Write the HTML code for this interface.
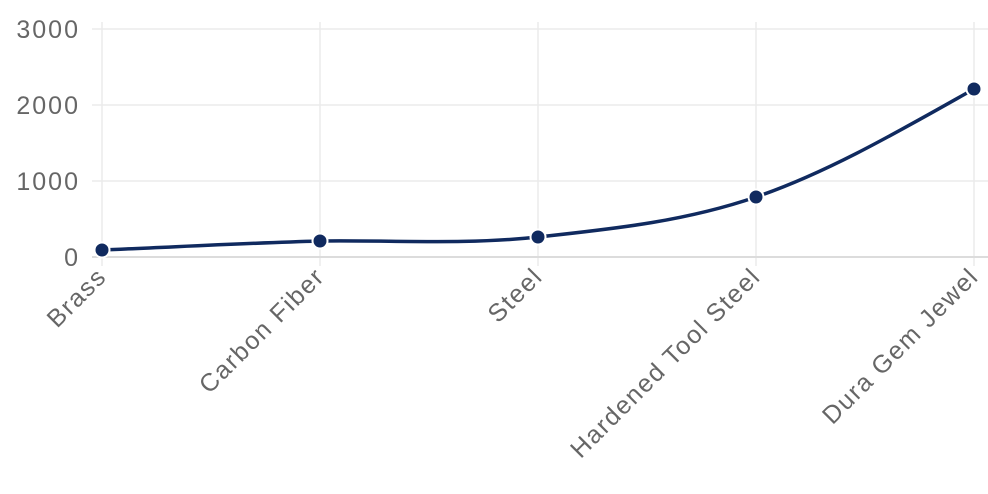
<!DOCTYPE html>
<html><head><style>body{margin:0;background:#fff}svg{display:block}</style></head><body>
<svg width="988" height="494" xmlns="http://www.w3.org/2000/svg" font-family="Liberation Sans, sans-serif">
<g stroke="#ebebeb" stroke-width="1.5">
<line x1="92" y1="29" x2="988" y2="29"/><line x1="92" y1="105" x2="988" y2="105"/><line x1="92" y1="181" x2="988" y2="181"/>
<line x1="102" y1="22" x2="102" y2="266"/><line x1="320" y1="22" x2="320" y2="266"/><line x1="538" y1="22" x2="538" y2="266"/><line x1="756" y1="22" x2="756" y2="266"/><line x1="974" y1="22" x2="974" y2="266"/>
</g>
<line x1="92" y1="257" x2="988" y2="257" stroke="#dcdcdc" stroke-width="2"/>
<g fill="#666" font-size="25" letter-spacing="2" text-anchor="end">
<text x="80" y="38">3000</text><text x="80" y="114">2000</text><text x="80" y="190">1000</text><text x="80" y="266">0</text>
</g>
<g fill="#666" font-size="25" letter-spacing="1.6" text-anchor="end">
<text transform="translate(108,278) rotate(-45)">Brass</text>
<text transform="translate(326,278) rotate(-45)">Carbon Fiber</text>
<text transform="translate(544,278) rotate(-45)">Steel</text>
<text transform="translate(762,278) rotate(-45)">Hardened Tool Steel</text>
<text transform="translate(980,278) rotate(-45)">Dura Gem Jewel</text>
</g>
<path d="M102,250 C175,247 247,243 320,241 C393,240 465,245 538,237 C611,229 683,222 756,197 C829,172 901,130 974,89" fill="none" stroke="#102a5f" stroke-width="3.5"/>
<g fill="#102a5f" stroke="#fff" stroke-width="2">
<circle cx="102" cy="250" r="7.5"/><circle cx="320" cy="241" r="7.5"/><circle cx="538" cy="237" r="7.5"/><circle cx="756" cy="197" r="7.5"/><circle cx="974" cy="89" r="7.5"/>
</g>
</svg>
</body></html>
